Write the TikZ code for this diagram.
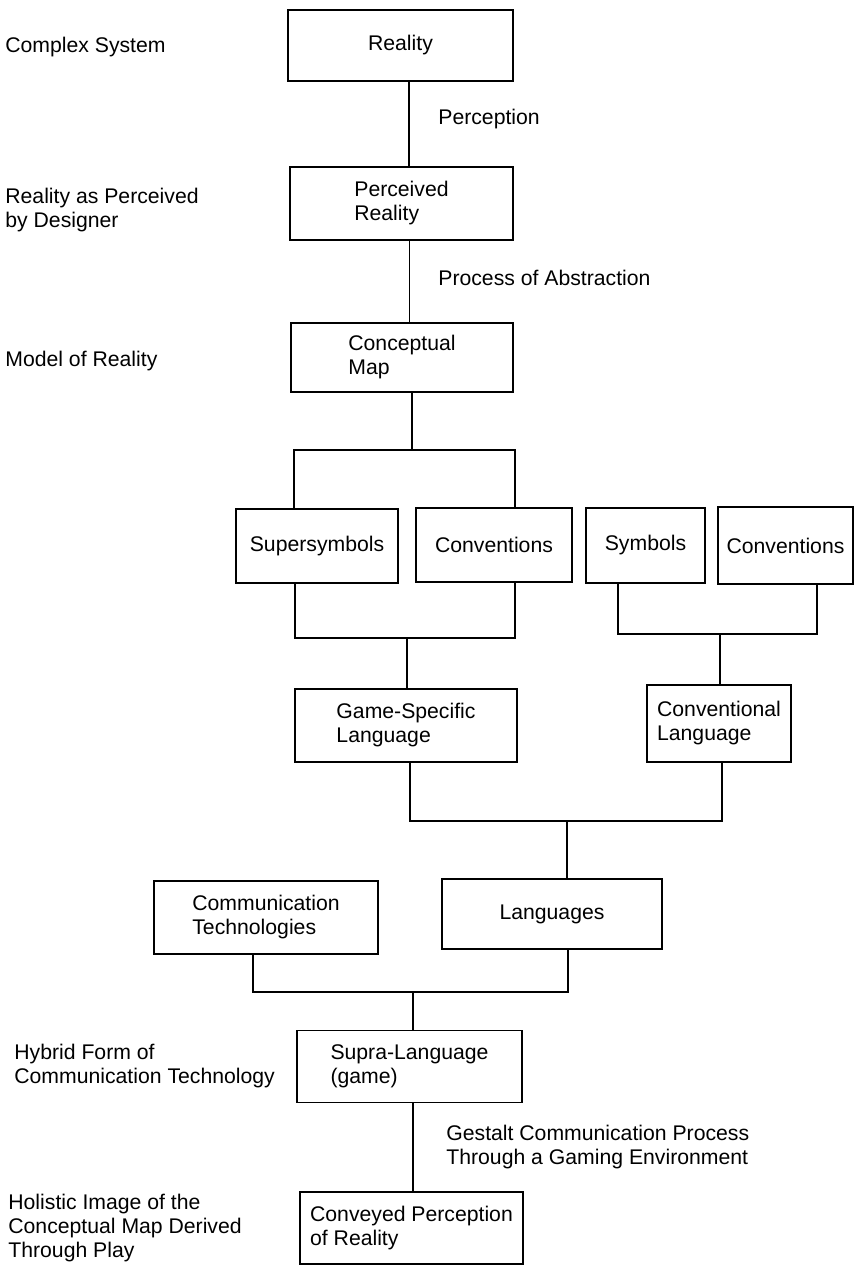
\documentclass[tikz,border=0pt]{standalone}
\usepackage{fontspec}
\setmainfont{Liberation Sans}
\usetikzlibrary{positioning, calc}

\tikzset{
  box/.style={draw, line width=0.8pt, align=left, inner sep=3pt, font=\fontsize{10.6}{12}\selectfont},
  note/.style={anchor=west, align=left, inner sep=0pt, font=\fontsize{10.6}{12}\selectfont},
  wire/.style={line width=0.8pt}
}

\begin{document}
\begin{tikzpicture}[x=0.5pt, y=-0.5pt]
  \useasboundingbox (0,0) rectangle (855,1265);

  % Main column
  \node[box, minimum width=112.5pt, minimum height=35.5pt] (real) at (400.5,45.5) {Reality};
  \node[box, minimum width=111.5pt, minimum height=36.5pt] (perc) at (401.5,203.5) {Perceived\\Reality};
  \node[box, minimum width=111pt, minimum height=34.5pt] (cmap) at (402,357.5) {Conceptual\\Map};

  % Symbols and conventions
  \node[box, minimum width=81pt, minimum height=37pt] (supsym) at (317,546) {Supersymbols};
  \node[box, minimum width=78pt, minimum height=37pt] (conv1) at (494,545) {Conventions};
  \node[box, minimum width=59.5pt, minimum height=37.5pt] (sym) at (645.5,545.5) {Symbols};
  \node[box, minimum width=67.5pt, minimum height=38.5pt] (conv2) at (785.5,545.5) {Conventions};

  % Languages
  \node[box, minimum width=111pt, minimum height=36.5pt] (gsl) at (406,725.5) {Game-Specific\\Language};
  \node[box, minimum width=72pt, minimum height=38.5pt] (cl) at (719,723.5) {Conventional\\Language};
  \node[box, minimum width=112pt, minimum height=36.5pt] (ctech) at (266,917.5) {Communication\\Technologies};
  \node[box, minimum width=110pt, minimum height=35pt] (lang) at (552,914) {Languages};

  % Game
  \node[box, minimum width=112.5pt, minimum height=36pt] (supra) at (409.5,1066.5) {Supra-Language\\(game)};
  \node[box, minimum width=111.5pt, minimum height=36pt] (conv) at (411.5,1228) {Conveyed Perception\\of Reality};

  % Connectors
  \draw[wire] ([xshift=4.25pt]real.south) -- ([xshift=4.25pt]real.south |- perc.north);
  \draw[wire] ([xshift=4pt]perc.south) -- ([xshift=4pt]perc.south |- cmap.north);

  \coordinate (j1) at (412,450);
  \draw[wire] ([xshift=5pt]cmap.south) -- (j1);
  \draw[wire] ([xshift=-11.5pt]supsym.north) |- (j1) -| ([xshift=10.5pt]conv1.north);

  \coordinate (j2) at (407,638);
  \draw[wire] ([xshift=-11pt]supsym.south) |- (j2) -| ([xshift=10.5pt]conv1.south);
  \draw[wire] (j2) -- (j2 |- gsl.north);

  \coordinate (j3) at (720,634);
  \draw[wire] ([xshift=-13.75pt]sym.south) |- (j3) -| ([xshift=15.75pt]conv2.south);
  \draw[wire] (j3) -- (j3 |- cl.north);

  \coordinate (j4) at (567,821);
  \draw[wire] ([xshift=2pt]gsl.south) |- (j4) -| ([xshift=1.5pt]cl.south);
  \draw[wire] (j4) -- (j4 |- lang.north);

  \coordinate (j5) at (413,992);
  \draw[wire] ([xshift=-6.5pt]ctech.south) |- (j5) -| ([xshift=8pt]lang.south);
  \draw[wire] (j5) -- (j5 |- supra.north);
  \draw[wire] ([xshift=1.75pt]supra.south) -- ([xshift=1.75pt]supra.south |- conv.north);

  % Process labels
  \node[note] (lperc) at (438,119) {Perception};
  \node[note] (labs) at (438,278) {Process of Abstraction};
  \node[note] (lgest) at (446,1147) {Gestalt Communication Process\\Through a Gaming Environment};

  % Level labels
  \node[note] (lcs) at (5,47) {Complex System};
  \node[note] (lrp) at (5,210) {Reality as Perceived\\by Designer};
  \node[note] (lmr) at (5,361) {Model of Reality};
  \node[note] (lhy) at (14,1066) {Hybrid Form of\\Communication Technology};
  \node[note] (lho) at (8,1228) {Holistic Image of the\\Conceptual Map Derived\\Through Play};
\end{tikzpicture}
\end{document}
